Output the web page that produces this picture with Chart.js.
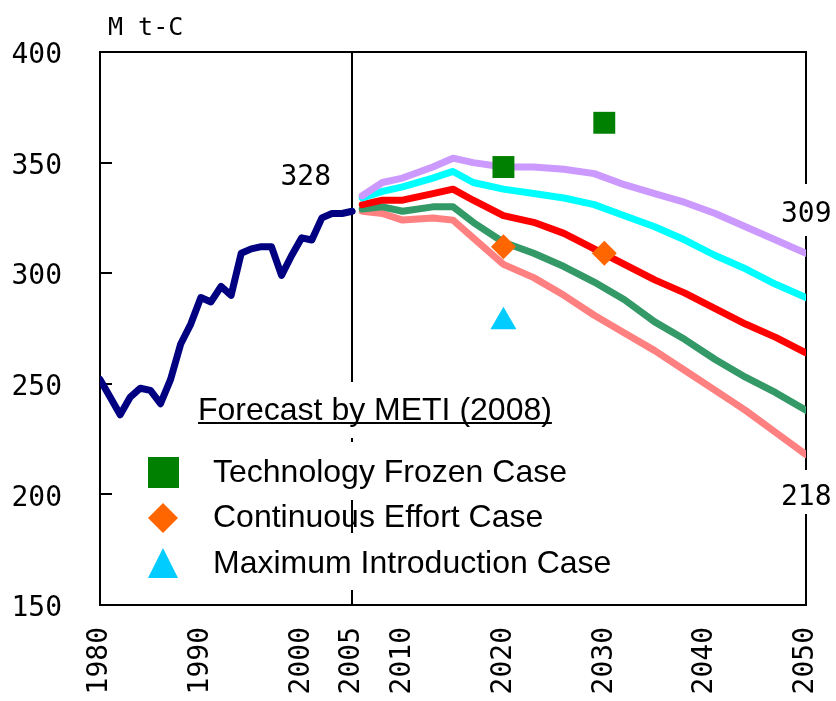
<!DOCTYPE html>
<html>
<head>
<meta charset="utf-8">
<script src="https://cdn.jsdelivr.net/npm/chart.js@4"></script>
<style>html,body{margin:0;padding:0;background:#fff}</style>
</head>
<body>
<canvas id="chart" width="836" height="701" style="width:836px;height:701px"></canvas>
<script>
const histYears = [1980,1981,1982,1983,1984,1985,1986,1987,1988,1989,1990,1991,1992,1993,1994,1995,1996,1997,1998,1999,2000,2001,2002,2003,2004,2005];
const histValues = [252,244,236,244,248,247,241,252,268,277,289,287,294,290,309,311,312,312,299,308,316,315,325,327,327,328];

const fcYears = [2006,2008,2010,2013,2015,2017,2020,2023,2026,2029,2032,2035,2038,2041,2044,2047,2050];
const purpleCase = [335,341,343,348,352,350,348,348,347,345,340,336,332,327,321,315,309];
const cyanCase   = [334,337,339,343,346,341,338,336,334,331,326,321,315,308,302,295,289];
const redCase    = [331,333,333,336,338,333,326,323,318,311,304,297,291,284,277,271,264];
const greenCase  = [329,330,328,330,330,323,314,309,303,296,288,278,270,261,253,246,238];
const pinkCase   = [328,327,324,325,324,316,304,298,290,281,273,265,256,247,238,228,218];

const metiYears = [2020, 2030];
const frozenCase = [348, 368];
const effortCase = [312, 309];
const maxIntroYears = [2020];
const maxIntroCase = [278];

const xTicks = [1980,1990,2000,2005,2010,2020,2030,2040,2050];
const yTicks = [150,200,250,300,350,400];

const digitFont = "28px 'DejaVu Sans Mono'";
const pts = (xs, ys) => xs.map((x, i) => ({x, y: ys[i]}));

function lineSet(data, color) {
  return {data, borderColor: color, backgroundColor: color, borderWidth: 7, showLine: true,
    pointRadius: 0, borderCapStyle: "round", borderJoinStyle: "round", tension: 0};
}

const decor = {
  id: "decor",
  beforeDatasetsDraw(chart) {
    const c = chart.ctx, a = chart.chartArea, x = chart.scales.x, y = chart.scales.y;
    c.save();
    c.strokeStyle = "#000";
    c.lineWidth = 2;
    c.strokeRect(a.left, a.top, a.right - a.left, a.bottom - a.top);
    // inward ticks
    yTicks.forEach(v => {
      const py = Math.round(y.getPixelForValue(v));
      c.beginPath(); c.moveTo(a.left, py); c.lineTo(a.left + 12, py); c.stroke();
    });
    // 2005 divider
    const px = Math.round(x.getPixelForValue(2005));
    [[a.top, 382], [438, 442], [500, 533], [590, a.bottom]].forEach(s => {
      c.beginPath(); c.moveTo(px, s[0]); c.lineTo(px, s[1]); c.stroke();
    });
    c.restore();
  },
  afterDatasetsDraw(chart) {
    const c = chart.ctx;
    c.save();
    c.fillStyle = "#fff";
    c.fillRect(780, 184, 56, 52);
    c.fillRect(780, 470, 56, 44);
    c.fillStyle = "#000";
    c.font = "25px 'DejaVu Sans Mono'";
    c.textBaseline = "alphabetic";
    c.textAlign = "left";
    c.fillText("M t-C", 108, 35);
    c.font = digitFont;
    c.textAlign = "right";
    c.fillText("328", 331, 185);
    c.textAlign = "left";
    c.fillText("309", 781, 222);
    c.fillText("218", 781, 505);

    // legend
    c.font = "32px 'Liberation Sans'";
    c.fillText("Forecast by METI (2008)", 198, 420);
    const tw = c.measureText("Forecast by METI (2008)").width;
    c.fillRect(198, 422, tw, 2);
    c.fillText("Technology Frozen Case", 213, 482);
    c.fillText("Continuous Effort Case", 213, 527);
    c.fillText("Maximum Introduction Case", 213, 573);

    c.fillStyle = "#008000";
    c.fillRect(148, 457, 31, 31);
    c.fillStyle = "#ff6600";
    c.beginPath();
    c.moveTo(163, 503); c.lineTo(178, 518); c.lineTo(163, 533); c.lineTo(148, 518);
    c.closePath(); c.fill();
    c.fillStyle = "#00ccff";
    c.beginPath();
    c.moveTo(163, 548); c.lineTo(178, 578); c.lineTo(148, 578);
    c.closePath(); c.fill();
    c.restore();
  }
};

new Chart(document.getElementById("chart").getContext("2d"), {
  type: "scatter",
  data: {
    datasets: [
      {data: pts(metiYears, frozenCase), pointStyle: "rect", pointRadius: 15.5, backgroundColor: "#008000", borderWidth: 0, showLine: false},
      {data: pts(metiYears, effortCase), pointStyle: "rectRot", pointRadius: 12.5, backgroundColor: "#ff6600", borderWidth: 0, showLine: false},
      {data: pts(maxIntroYears, maxIntroCase), pointStyle: "triangle", pointRadius: 15, backgroundColor: "#00ccff", borderWidth: 0, showLine: false},
      lineSet(pts(fcYears, purpleCase), "#cc99ff"),
      lineSet(pts(fcYears, cyanCase), "#00ffff"),
      lineSet(pts(fcYears, redCase), "#ff0000"),
      lineSet(pts(fcYears, greenCase), "#339966"),
      lineSet(pts(fcYears, pinkCase), "#ff8080"),
      lineSet(pts(histYears, histValues), "#000080")
    ]
  },
  options: {
    responsive: false,
    animation: false,
    layout: {padding: {top: 52, right: 30, left: 0, bottom: 0}},
    plugins: {legend: {display: false}, tooltip: {enabled: false}},
    scales: {
      x: {
        type: "linear", min: 1980, max: 2050,
        afterBuildTicks: s => { s.ticks = xTicks.map(v => ({value: v})); },
        afterFit: s => { s.height = 96; s.paddingLeft = 0; s.paddingRight = 0; },
        grid: {display: false, drawTicks: false},
        border: {display: false},
        ticks: {autoSkip: false, minRotation: 90, maxRotation: 90, padding: 22,
          color: "#000", font: {family: "DejaVu Sans Mono", size: 28},
          callback: v => String(v)}
      },
      y: {
        min: 150, max: 400,
        afterBuildTicks: s => { s.ticks = yTicks.map(v => ({value: v})); },
        afterFit: s => { s.width = 100; s.paddingTop = 0; s.paddingBottom = 0; },
        grid: {display: false, drawTicks: false},
        border: {display: false},
        ticks: {padding: 38, labelOffset: 4, color: "#000",
          font: {family: "DejaVu Sans Mono", size: 28}}
      }
    }
  },
  plugins: [decor]
});
</script>
</body>
</html>
